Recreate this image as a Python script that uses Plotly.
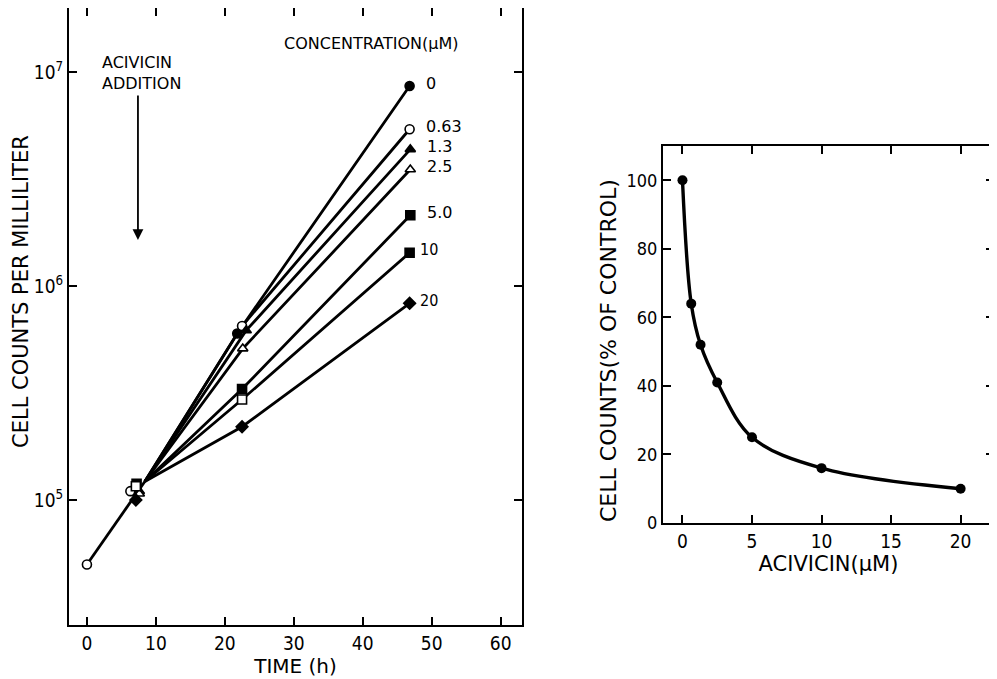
import numpy as np
import plotly.graph_objects as go

# ---------------- Left panel data (growth curves) ----------------
conc_labels = ["0", "0.63", "1.3", "2.5", "5.0", "10", "20"]
t_start = [0.0]
v_start = [5.0e4]
t_fan = 8.4
v_fan = 1.22e5
t_early = [6.8, 6.3, 7.6, 7.6, 7.2, 7.1, 7.1]
v_early = [1.10e5, 1.10e5, 1.10e5, 1.07e5, 1.19e5, 1.16e5, 1.00e5]
t_mid = [21.8, 22.5, 23.1, 22.6, 22.5, 22.5, 22.5]
v_mid = [6.0e5, 6.5e5, 6.2e5, 5.1e5, 3.3e5, 2.95e5, 2.2e5]
t_end = [46.8, 46.8, 46.9, 46.9, 46.9, 46.8, 46.8]
v_end = [8.6e6, 5.4e6, 4.35e6, 3.5e6, 2.14e6, 1.43e6, 8.3e5]
t_addition = 7.4

# ---------------- Right panel data (dose response) ----------------
dose_um = [0, 0.63, 1.3, 2.5, 5.0, 10, 20]
pct_control = [100, 64, 52, 41, 25, 16, 10]

# ---------------- page geometry (page body has an 8px margin) ----------------
OFF = 8
W, H = 997 - OFF, 679 - OFF


def px(x):
    return (x - OFF) / W


def py(y):
    return 1 - (y - OFF) / H


# ---------------- styles ----------------
symbols = ["circle", "circle", "triangle-up", "triangle-up", "square", "square", "diamond"]
fills = [["black"] * 3, ["white"] * 3, ["black"] * 3, ["white"] * 3,
         ["black"] * 3, ["white", "white", "black"], ["black"] * 3]
label_xshift = [14, 14, 15, 15, 15, 8, 8]
label_fonts = ["DejaVu Sans", "DejaVu Sans", "DejaVu Sans", "DejaVu Sans",
               "DejaVu Sans", "DejaVu Sans Condensed", "DejaVu Sans Condensed"]

COND = "DejaVu Sans Condensed, DejaVu Sans, sans-serif"
WIDE = "DejaVu Sans, sans-serif"
TICKFONT = dict(family=COND, size=19, color="black")
LW = 2.8

fig = go.Figure()

# common pre-addition line
fig.add_trace(go.Scatter(x=[t_start[0], t_fan], y=[v_start[0], v_fan], mode="lines",
                         line=dict(color="black", width=LW), showlegend=False,
                         xaxis="x", yaxis="y"))

for i, lab in enumerate(conc_labels):
    fig.add_trace(go.Scatter(x=[t_fan, t_mid[i], t_end[i]], y=[v_fan, v_mid[i], v_end[i]],
                             mode="lines", line=dict(color="black", width=LW),
                             showlegend=False, xaxis="x", yaxis="y"))

for i, lab in enumerate(conc_labels):
    fig.add_trace(go.Scatter(x=[t_early[i], t_mid[i], t_end[i]],
                             y=[v_early[i], v_mid[i], v_end[i]],
                             mode="markers", name=lab,
                             marker=dict(symbol=symbols[i], size=9, color=fills[i],
                                         line=dict(color="black", width=1.6)),
                             showlegend=False, xaxis="x", yaxis="y"))

# start point (open circle)
fig.add_trace(go.Scatter(x=t_start, y=v_start, mode="markers",
                         marker=dict(symbol="circle", size=9, color="white",
                                     line=dict(color="black", width=1.6)),
                         showlegend=False, xaxis="x", yaxis="y"))

# right panel curve
fig.add_trace(go.Scatter(x=dose_um, y=pct_control, mode="lines+markers",
                         line=dict(color="black", width=3.4, shape="spline", smoothing=1.0),
                         marker=dict(symbol="circle", size=10, color="black"),
                         showlegend=False, xaxis="x2", yaxis="y2"))

annotations = []
for i, lab in enumerate(conc_labels):
    annotations.append(dict(x=t_end[i], y=np.log10(v_end[i]), xref="x", yref="y",
                            text=lab, showarrow=False, xanchor="left", yanchor="middle",
                            xshift=label_xshift[i], yshift=3,
                            font=dict(family=label_fonts[i], size=16, color="black")))

annotations.append(dict(x=px(282), y=py(43), xref="paper", yref="paper",
                        text="CONCENTRATION(\u03bcM)", showarrow=False,
                        xanchor="left", yanchor="middle",
                        font=dict(family=WIDE, size=16, color="black")))
annotations.append(dict(x=px(100), y=py(73), xref="paper", yref="paper",
                        text="ACIVICIN<br>ADDITION", showarrow=False, align="left",
                        xanchor="left", yanchor="middle",
                        font=dict(family=WIDE, size=16, color="black")))
# arrow for acivicin addition
annotations.append(dict(x=t_addition, y=np.log10(1.64e6), xref="x", yref="y",
                        ax=0, ay=-146, text="", showarrow=True, arrowhead=2,
                        arrowsize=1.2, arrowwidth=1.8, arrowcolor="black"))
# y-axis titles
annotations.append(dict(x=px(21), y=py(292), xref="paper", yref="paper",
                        text="CELL COUNTS PER MILLILITER", textangle=-90, showarrow=False,
                        xanchor="center", yanchor="middle",
                        font=dict(family=WIDE, size=21, color="black")))
annotations.append(dict(x=px(609), y=py(351), xref="paper", yref="paper",
                        text="CELL COUNTS(% OF CONTROL)", textangle=-90, showarrow=False,
                        xanchor="center", yanchor="middle",
                        font=dict(family=WIDE, size=22, color="black")))

axis_common = dict(showline=True, linecolor="black", linewidth=2, mirror="ticks",
                   ticks="inside", ticklen=8, tickwidth=1.6, tickcolor="black",
                   showgrid=False, zeroline=False, automargin=False)

fig.update_layout(
    width=W, height=H,
    margin=dict(l=0, r=0, t=0, b=0),
    paper_bgcolor="white", plot_bgcolor="white",
    xaxis=dict(domain=[px(69), px(522)], range=[-2.6, 63.1],
               tickvals=[0, 10, 20, 30, 40, 50, 60], anchor="y", tickfont=TICKFONT,
               title=dict(text="TIME (h)", font=dict(family=WIDE, size=20, color="black"),
                          standoff=4),
               **axis_common),
    yaxis=dict(domain=[py(625), py(8)], type="log", range=[4.416, 7.299],
               tickvals=[1e5, 1e6, 1e7], tickfont=TICKFONT,
               ticktext=["10<sup>5</sup>", "10<sup>6</sup>", "10<sup>7</sup>"], anchor="x",
               **axis_common),
    xaxis2=dict(domain=[px(663), px(994)], range=[-1.4, 22.4],
                tickvals=[0, 5, 10, 15, 20], anchor="y2", tickfont=TICKFONT,
                title=dict(text="ACIVICIN(\u03bcM)", font=dict(family=WIDE, size=21, color="black"),
                           standoff=6),
                **axis_common),
    yaxis2=dict(domain=[py(523), py(146)], range=[0, 110],
                tickvals=[0, 20, 40, 60, 80, 100], anchor="x2",
                tickfont=dict(family=COND, size=18, color="black"),
                **axis_common),
    annotations=annotations,
)

fig.write_html("out.html")
